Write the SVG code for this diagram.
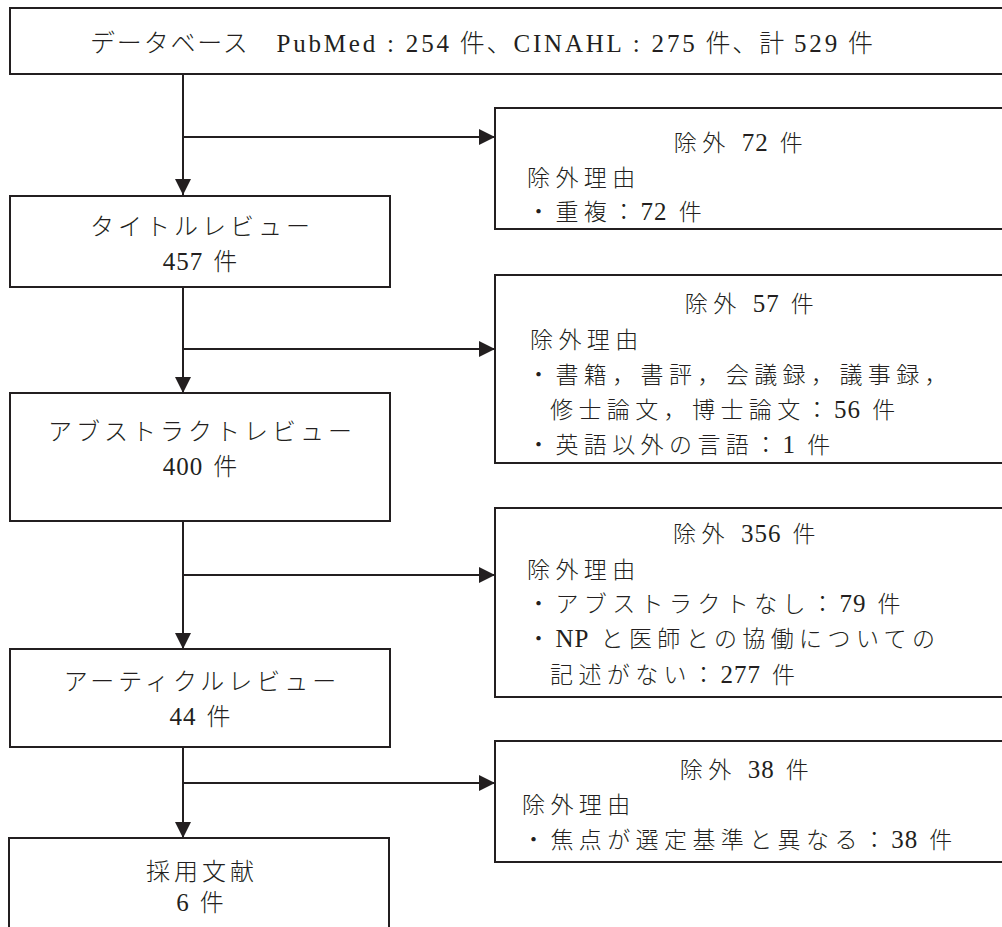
<svg xmlns="http://www.w3.org/2000/svg" width="1002" height="927" viewBox="0 0 1002 927">
  <defs>
    <marker id="arrow" markerUnits="userSpaceOnUse" markerWidth="16" markerHeight="16" viewBox="0 0 16 16" refX="16" refY="8" orient="auto">
      <path d="M0,0 L16,8 L0,16 Z" fill="#231f20"/>
    </marker>
    <style>
      .box { fill: #ffffff; stroke: #231f20; stroke-width: 2; }
      .line { fill: none; stroke: #231f20; stroke-width: 2; }
      text { font-family: "Liberation Serif", "Noto Sans CJK JP", serif; fill: #231f20; font-weight: 300; }
      .node { font-size: 24px; letter-spacing: 4px; text-anchor: middle; }
      .ex { font-size: 23px; letter-spacing: 5.4px; }
      .exh { font-size: 23px; letter-spacing: 5.4px; text-anchor: middle; }
      .top { font-size: 25px; }
      .n { font-family: "Liberation Serif", serif; font-weight: 400; font-size: 25px; letter-spacing: 1px; }
    </style>
  </defs>

  <rect width="1002" height="927" fill="#ffffff"/>

  <g id="connectors">
    <line class="line" x1="183" y1="74" x2="183" y2="195" marker-end="url(#arrow)"/>
    <line class="line" x1="183" y1="137" x2="495" y2="137" marker-end="url(#arrow)"/>
    <line class="line" x1="183" y1="287" x2="183" y2="393" marker-end="url(#arrow)"/>
    <line class="line" x1="183" y1="349" x2="495" y2="349" marker-end="url(#arrow)"/>
    <line class="line" x1="183" y1="521" x2="183" y2="649" marker-end="url(#arrow)"/>
    <line class="line" x1="183" y1="575" x2="495" y2="575" marker-end="url(#arrow)"/>
    <line class="line" x1="183" y1="747" x2="183" y2="838" marker-end="url(#arrow)"/>
    <line class="line" x1="183" y1="783" x2="495" y2="783" marker-end="url(#arrow)"/>
  </g>

  <g id="database">
    <rect class="box" x="10" y="8" width="1010" height="66"/>
    <text class="top" x="90" y="52" textLength="783" lengthAdjust="spacing">データベース　<tspan class="n">PubMed : 254</tspan> 件、<tspan class="n">CINAHL : 275</tspan> 件、計 <tspan class="n">529</tspan> 件</text>
  </g>

  <g id="exclude1">
    <rect class="box" x="495" y="108" width="520" height="121"/>
    <text class="exh" x="741" y="151">除外 <tspan class="n">72</tspan> 件</text>
    <text class="ex" x="527" y="186">除外理由</text>
    <text class="ex" x="527" y="220">・重複：<tspan class="n">72</tspan> 件</text>
  </g>

  <g id="title-review">
    <rect class="box" x="10" y="196" width="380" height="91"/>
    <text class="node" x="202" y="235">タイトルレビュー</text>
    <text class="node" x="202" y="270"><tspan class="n">457</tspan> 件</text>
  </g>

  <g id="exclude2">
    <rect class="box" x="495" y="275" width="520" height="188"/>
    <text class="exh" x="752" y="312">除外 <tspan class="n">57</tspan> 件</text>
    <text class="ex" x="530" y="348">除外理由</text>
    <text class="ex" x="527" y="383">・書籍，書評，会議録，議事録，</text>
    <text class="ex" x="550" y="418">修士論文，博士論文：<tspan class="n">56</tspan> 件</text>
    <text class="ex" x="527" y="453">・英語以外の言語：<tspan class="n">1</tspan> 件</text>
  </g>

  <g id="abstract-review">
    <rect class="box" x="10" y="393" width="380" height="128"/>
    <text class="node" x="202" y="440">アブストラクトレビュー</text>
    <text class="node" x="202" y="475"><tspan class="n">400</tspan> 件</text>
  </g>

  <g id="exclude3">
    <rect class="box" x="495" y="508" width="520" height="189"/>
    <text class="exh" x="747" y="542">除外 <tspan class="n">356</tspan> 件</text>
    <text class="ex" x="527" y="578">除外理由</text>
    <text class="ex" x="527" y="612">・アブストラクトなし：<tspan class="n">79</tspan> 件</text>
    <text class="ex" x="527" y="647">・<tspan class="n">NP</tspan> と医師との協働についての</text>
    <text class="ex" x="550" y="683">記述がない：<tspan class="n">277</tspan> 件</text>
  </g>

  <g id="article-review">
    <rect class="box" x="10" y="649" width="380" height="98"/>
    <text class="node" x="202" y="690">アーティクルレビュー</text>
    <text class="node" x="202" y="725"><tspan class="n">44</tspan> 件</text>
  </g>

  <g id="exclude4">
    <rect class="box" x="495" y="741" width="520" height="121"/>
    <text class="exh" x="747" y="778">除外 <tspan class="n">38</tspan> 件</text>
    <text class="ex" x="522" y="813">除外理由</text>
    <text class="ex" x="522" y="848">・焦点が選定基準と異なる：<tspan class="n">38</tspan> 件</text>
  </g>

  <g id="adopted">
    <rect class="box" x="9" y="838" width="380" height="110"/>
    <text class="node" x="202" y="880">採用文献</text>
    <text class="node" x="202" y="911"><tspan class="n">6</tspan> 件</text>
  </g>
</svg>
